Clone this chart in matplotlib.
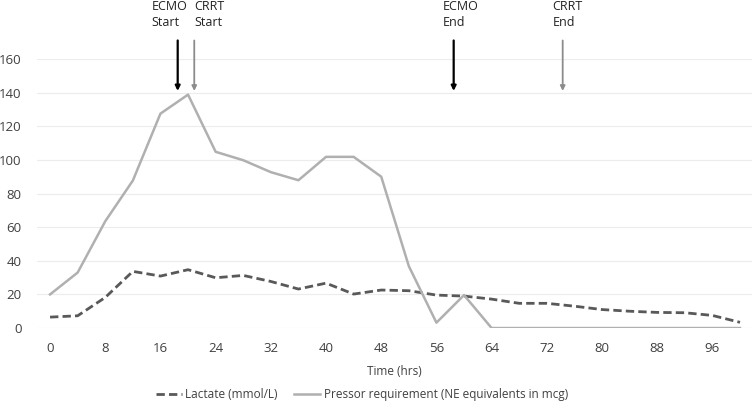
import matplotlib.pyplot as plt

hours = [0, 4, 8, 12, 16, 20, 24, 28, 32, 36, 40, 44, 48, 52, 56, 60, 64,
         68, 72, 76, 80, 84, 88, 92, 96, 100]
lactate = [6.5, 7.3, 18.2, 33.7, 30.9, 34.7, 29.9, 31.3, 27.7, 23.2, 26.7, 20.2,
           22.6, 22.2, 19.6, 19.0, 17.2, 14.7, 14.7, 13.0, 11.0, 10.0, 9.3, 9.1, 7.5, 3.4]
pressor = [20, 33, 63.5, 87.7, 127.5, 138.8, 104.8, 99.8, 92.7, 87.9, 101.8, 101.8,
           90, 36.8, 3.2, 19.6, 0, 0, 0, 0, 0, 0, 0, 0, 0, 0]

events = ["ECMO\nStart", "CRRT\nStart", "ECMO\nEnd", "CRRT\nEnd"]
event_hours = [18.5, 20.9, 58.5, 74.3]
label_hours = [14.7, 20.9, 56.9, 72.8]   # left edge of each label
event_colors = ["black", "#8c8c8c", "black", "#8c8c8c"]

xticks = list(range(0, 97, 8))
yticks = list(range(0, 161, 20))

plt.rcParams["font.family"] = ["Open Sans", "DejaVu Sans"]

fig = plt.figure(figsize=(7.54, 4.04), dpi=100)
ax = fig.add_axes([0.049, 0.188, 0.948, 0.666])

ax.plot(hours, lactate, color="#595959", lw=2.0, ls=(0, (3, 1.5)), label="Lactate (mmol/L)")
ax.plot(hours, pressor, color="#b0b0b0", lw=1.8, label="Pressor requirement (NE equivalents in mcg)")

for name, h, lh, c in zip(events, event_hours, label_hours, event_colors):
    lw = 1.6 if c == "black" else 1.3
    ax.annotate("", xy=(h, 141), xytext=(h, 171), xycoords="data",
                arrowprops=dict(arrowstyle="-|>", color=c, lw=lw, mutation_scale=7,
                                shrinkA=0, shrinkB=0),
                annotation_clip=False)
    ax.text(lh, 178, name, ha="left", va="bottom", fontsize=9, color="#222222",
            linespacing=1.25, clip_on=False)

ax.set_xlim(-1.9, 101.7)
ax.set_ylim(0, 160)
ax.set_xticks(xticks)
ax.set_yticks(yticks)
ax.tick_params(length=0, labelsize=9.5, colors="#404040")
ax.tick_params(axis="x", pad=10)
ax.tick_params(axis="y", pad=11)
ax.grid(axis="y", color="#ececec", lw=0.8)
ax.set_axisbelow(True)
for s in ax.spines.values():
    s.set_visible(False)
ax.set_xlabel("Time (hrs)", fontsize=8.5, color="#404040", labelpad=7)

fig.legend(loc="lower center", bbox_to_anchor=(0.48, -0.02), ncol=2, frameon=False,
           fontsize=8.5, handlelength=2.2, handletextpad=0.3, columnspacing=1.4,
           labelcolor="#404040")

fig.savefig("out.png", dpi=100)
